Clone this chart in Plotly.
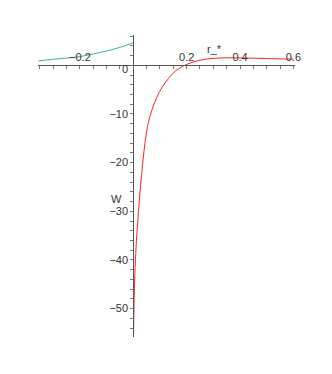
import plotly.graph_objects as go

# Red branch (r_* > 0)
red_x = [0.001, 0.002, 0.004, 0.008, 0.013, 0.0195, 0.027, 0.0355, 0.045, 0.056,
         0.069, 0.088, 0.107, 0.132, 0.157, 0.189, 0.22, 0.27, 0.32, 0.37, 0.42,
         0.5, 0.6]
red_y = [-55.5, -52.0, -46.5, -40.0, -35.0, -30.0, -25.0, -20.0, -15.5, -11.9,
         -9.3, -6.6, -4.6, -2.7, -1.2, -0.1, 0.6, 1.25, 1.5, 1.55, 1.5,
         1.4, 1.28]

# Green branch (r_* < 0)
green_x = [-0.356, -0.3, -0.25, -0.2, -0.15, -0.1, -0.05, 0.0]
green_y = [0.9, 1.25, 1.5, 1.8, 2.35, 2.95, 3.7, 4.65]

x_tickvals = [-0.2, 0.2, 0.4, 0.6]
x_ticktext = ["\u22120.2", "0.2", "0.4", "0.6"]
y_tickvals = [0, -10, -20, -30, -40, -50]
y_ticktext = ["", "\u221210", "\u221220", "\u221230", "\u221240", "\u221250"]

x_range = [-0.357, 0.606]
y_range = [-55.85, 6.24]

fig = go.Figure()
fig.add_trace(go.Scatter(x=green_x, y=green_y, mode="lines",
                         line=dict(color="#3db582", width=1, shape="spline"),
                         hoverinfo="skip"))
fig.add_trace(go.Scatter(x=red_x, y=red_y, mode="lines",
                         line=dict(color="#ff2020", width=1, shape="spline"),
                         hoverinfo="skip"))

xpos = (0 - y_range[0]) / (y_range[1] - y_range[0])
ypos = (0 - x_range[0]) / (x_range[1] - x_range[0])

font = dict(family="Liberation Sans, Arial, sans-serif", size=11, color="#333333")

fig.update_layout(
    width=324, height=366,
    margin=dict(l=30, r=37, t=27, b=37, autoexpand=False),
    paper_bgcolor="white", plot_bgcolor="white",
    showlegend=False,
    font=font,
    xaxis=dict(range=x_range, anchor="free", position=xpos, side="top",
               automargin=False,
               showline=True, linecolor="#555555", linewidth=1,
               showgrid=False, zeroline=False,
               ticks="inside", ticklen=3, tickcolor="#777777",
               tickvals=x_tickvals, ticktext=x_ticktext, tickfont=font,
               minor=dict(dtick=0.05, tick0=0, ticks="inside", ticklen=3,
                          tickcolor="#777777", showgrid=False)),
    yaxis=dict(range=y_range, anchor="free", position=ypos, side="left",
               automargin=False,
               showline=True, linecolor="#555555", linewidth=1,
               showgrid=False, zeroline=False,
               ticks="outside", ticklen=3, tickcolor="#777777",
               tickvals=y_tickvals, ticktext=y_ticktext, tickfont=font,
               minor=dict(dtick=2, tick0=0, ticks="outside", ticklen=3,
                          tickcolor="#777777", showgrid=False)),
    annotations=[
        dict(x=0.305, y=3.4, xref="x", yref="y", text="r_*", showarrow=False,
             font=font),
        dict(x=-0.062, y=-27.5, xref="x", yref="y", text="W", showarrow=False,
             font=font),
        dict(x=-0.014, y=-0.8, xref="x", yref="y", text="0", showarrow=False,
             xanchor="right", yanchor="middle", font=font),
    ],
)

fig.write_html("out.html")
